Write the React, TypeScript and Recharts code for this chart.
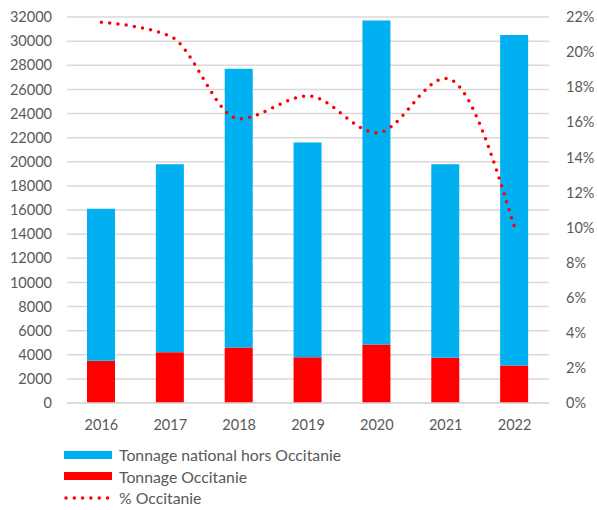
import React from "react";
import {
  ComposedChart,
  Bar,
  Line,
  XAxis,
  YAxis,
  CartesianGrid,
} from "recharts";

const years = ["2016", "2017", "2018", "2019", "2020", "2021", "2022"];
// tonnes, Occitanie region
const tonnageOccitanie = [3500, 4200, 4600, 3800, 4850, 3750, 3100];
// tonnes, rest of France
const tonnageHorsOccitanie = [12600, 15600, 23100, 17800, 26850, 16050, 27400];
// share of Occitanie in national tonnage (%)
const pctOccitanie = [21.7, 20.9, 16.2, 17.5, 15.4, 18.5, 10.0];

const leftTicks = Array.from({ length: 17 }, (_, i) => i * 2000);
const rightTicks = Array.from({ length: 12 }, (_, i) => i * 2);

const BLUE = "#00B0F0";
const RED = "#FF0000";
const GRID = "#D9D9D9";
const TEXT = "#595959";
const FONT = "Lato, 'Open Sans', sans-serif";

const data = years.map((year, i) => ({
  year,
  occitanie: tonnageOccitanie[i],
  horsOccitanie: tonnageHorsOccitanie[i],
  pct: pctOccitanie[i],
}));

const tickStyle = { fontSize: 14.5, fill: TEXT, fontFamily: FONT };

function LegendRow({ kind, label }: { kind: "blue" | "red" | "dots"; label: string }) {
  return (
    <div style={{ display: "flex", alignItems: "center", height: 21.5 }}>
      <svg width={50} height={10} style={{ marginRight: 5 }}>
        {kind === "dots" ? (
          <line
            x1={2}
            y1={5}
            x2={48}
            y2={5}
            stroke={RED}
            strokeWidth={3.5}
            strokeDasharray="0 8.3"
            strokeLinecap="round"
          />
        ) : (
          <rect x={0} y={1} width={48} height={8} fill={kind === "blue" ? BLUE : RED} />
        )}
      </svg>
      <span>{label}</span>
    </div>
  );
}

export default function App() {
  return (
    <div
      style={{
        position: "absolute",
        left: 0,
        top: 0,
        width: 597,
        height: 510,
        background: "#fff",
      }}
    >
      <ComposedChart
        width={597}
        height={510}
        data={data}
        margin={{ top: 17, right: 0, left: 0, bottom: 77 }}
        barSize={28}
      >
        <CartesianGrid yAxisId="left" vertical={false} stroke={GRID} strokeWidth={1.5} />
        <XAxis
          dataKey="year"
          height={30}
          axisLine={{ stroke: GRID, strokeWidth: 1.5 }}
          tickLine={false}
          tickMargin={11}
          tick={tickStyle}
        />
        <YAxis
          yAxisId="left"
          width={67}
          domain={[0, 32000]}
          ticks={leftTicks}
          interval={0}
          axisLine={false}
          tickLine={false}
          tickMargin={9}
          tick={tickStyle}
        />
        <YAxis
          yAxisId="right"
          orientation="right"
          width={48}
          domain={[0, 22]}
          ticks={rightTicks}
          interval={0}
          axisLine={false}
          tickLine={false}
          tickMargin={11}
          tick={tickStyle}
          tickFormatter={(v: number) => `${v}%`}
        />
        <Bar
          yAxisId="left"
          dataKey="occitanie"
          stackId="t"
          fill={RED}
          isAnimationActive={false}
        />
        <Bar
          yAxisId="left"
          dataKey="horsOccitanie"
          stackId="t"
          fill={BLUE}
          isAnimationActive={false}
        />
        <Line
          yAxisId="right"
          dataKey="pct"
          type="monotone"
          stroke={RED}
          strokeWidth={3.5}
          strokeDasharray="0 8.3"
          strokeLinecap="round"
          dot={false}
          activeDot={false}
          isAnimationActive={false}
        />
      </ComposedChart>
      <div
        style={{
          position: "absolute",
          left: 64,
          top: 444,
          fontFamily: FONT,
          fontSize: 15.8,
          color: TEXT,
        }}
      >
        <LegendRow kind="blue" label="Tonnage national hors Occitanie" />
        <LegendRow kind="red" label="Tonnage Occitanie" />
        <LegendRow kind="dots" label="% Occitanie" />
      </div>
    </div>
  );
}
